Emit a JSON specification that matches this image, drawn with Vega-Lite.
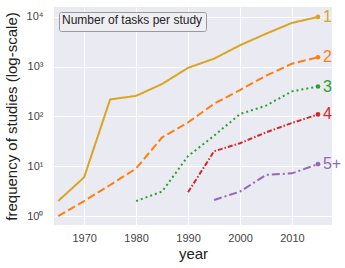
{
  "$schema": "https://vega.github.io/schema/vega-lite/v6.json",
  "autosize": {"type": "none"},
  "width": 278,
  "height": 218,
  "padding": {"left": 54, "top": 7, "right": 13, "bottom": 43},
  "background": "white",
  "config": {
    "font": "Liberation Sans",
    "view": {"fill": "#EAEAF2", "stroke": null},
    "axis": {"domain": false, "ticks": false, "gridColor": "white", "gridWidth": 1, "labelColor": "#444", "labelFontSize": 11, "titleColor": "#222", "titleFontSize": 15, "titleFontWeight": "normal"}
  },
  "data": {
    "values": [
      {"year": 1965, "n": 2, "s": "1"},
      {"year": 1970, "n": 6, "s": "1"},
      {"year": 1975, "n": 220, "s": "1"},
      {"year": 1980, "n": 260, "s": "1"},
      {"year": 1985, "n": 450, "s": "1"},
      {"year": 1990, "n": 950, "s": "1"},
      {"year": 1995, "n": 1450, "s": "1"},
      {"year": 2000, "n": 2700, "s": "1"},
      {"year": 2005, "n": 4600, "s": "1"},
      {"year": 2010, "n": 7600, "s": "1"},
      {"year": 2015, "n": 10000, "s": "1"},
      {"year": 1965, "n": 1, "s": "2"},
      {"year": 1970, "n": 2, "s": "2"},
      {"year": 1975, "n": 4.2, "s": "2"},
      {"year": 1980, "n": 9, "s": "2"},
      {"year": 1985, "n": 38, "s": "2"},
      {"year": 1990, "n": 76, "s": "2"},
      {"year": 1995, "n": 180, "s": "2"},
      {"year": 2000, "n": 340, "s": "2"},
      {"year": 2005, "n": 660, "s": "2"},
      {"year": 2010, "n": 1150, "s": "2"},
      {"year": 2015, "n": 1550, "s": "2"},
      {"year": 1980, "n": 2, "s": "3"},
      {"year": 1985, "n": 3.1, "s": "3"},
      {"year": 1990, "n": 16, "s": "3"},
      {"year": 1995, "n": 41, "s": "3"},
      {"year": 2000, "n": 112, "s": "3"},
      {"year": 2005, "n": 165, "s": "3"},
      {"year": 2010, "n": 320, "s": "3"},
      {"year": 2015, "n": 400, "s": "3"},
      {"year": 1990, "n": 3, "s": "4"},
      {"year": 1995, "n": 20, "s": "4"},
      {"year": 2000, "n": 29, "s": "4"},
      {"year": 2005, "n": 48, "s": "4"},
      {"year": 2010, "n": 74, "s": "4"},
      {"year": 2015, "n": 110, "s": "4"},
      {"year": 1995, "n": 2.1, "s": "5+"},
      {"year": 2000, "n": 3.1, "s": "5+"},
      {"year": 2005, "n": 6.7, "s": "5+"},
      {"year": 2010, "n": 7.2, "s": "5+"},
      {"year": 2015, "n": 11, "s": "5+"}
    ]
  },
  "encoding": {
    "x": {"field": "year", "type": "quantitative", "scale": {"domain": [1964.2, 2017.7], "nice": false, "zero": false},
      "axis": {"title": "year", "values": [1970, 1980, 1990, 2000, 2010], "format": "d", "labelPadding": 7, "titlePadding": 3}},
    "y": {"field": "n", "type": "quantitative", "scale": {"type": "log", "domain": [0.66, 15850], "nice": false},
      "axis": {"title": "frequency of studies (log-scale)", "values": [1, 10, 100, 1000, 10000], "labelPadding": 11, "titlePadding": 7,
        "labelExpr": "'10' + ['⁰','¹','²','³','⁴'][round(log(datum.value)/LN10)]"}},
    "color": {"field": "s", "type": "nominal", "scale": {"domain": ["1", "2", "3", "4", "5+"], "range": ["#DAA520", "#ff7f0e", "#2ca02c", "#d62728", "#9467bd"]},
      "legend": {"title": "Number of tasks per study", "orient": "top-left", "offset": 5, "values": ["1"], "symbolOpacity": 0, "labelExpr": "''", "symbolSize": 1, "labelFontSize": 1, "clipHeight": 1, "titlePadding": 0, "rowPadding": 0, "padding": 3, "fillColor": "#efeff3", "strokeColor": "#999", "cornerRadius": 2, "titleFontSize": 12, "titleFontWeight": "normal", "titleColor": "#222", "titleLimit": 300}}
  },
  "layer": [
    {
      "mark": {"type": "line", "strokeWidth": 2},
      "encoding": {
        "strokeDash": {"field": "s", "type": "nominal", "scale": {"domain": ["1", "2", "3", "4", "5+"], "range": [[1, 0], [8, 3.5], [2, 3], [5, 2, 1.5, 2], [8, 3, 2, 3]]}, "legend": null}
      }
    },
    {
      "transform": [{"filter": "datum.year == 2015"}],
      "mark": {"type": "circle", "size": 22, "opacity": 1}
    },
    {
      "transform": [{"filter": "datum.year == 2015"}],
      "mark": {"type": "text", "align": "left", "baseline": "middle", "dx": 5, "fontSize": 16},
      "encoding": {"text": {"field": "s"}}
    }
  ]
}
